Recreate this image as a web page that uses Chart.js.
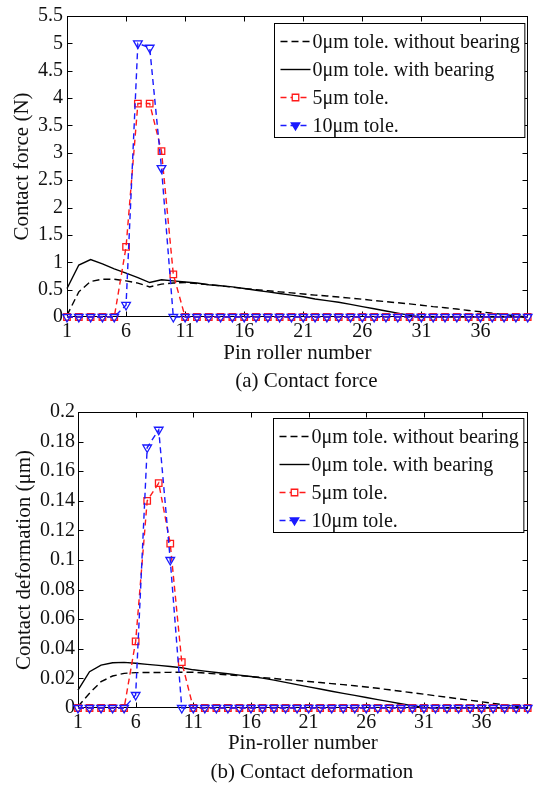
<!DOCTYPE html>
<html>
<head>
<meta charset="utf-8">
<script src="https://cdn.jsdelivr.net/npm/chart.js@4/dist/chart.umd.min.js"></script>
<style>
html,body{margin:0;padding:0;background:#fff;}
#wrap{position:relative;width:534px;height:786px;overflow:hidden;}
canvas{position:absolute;left:0;}
</style>
</head>
<body>
<div id="wrap">
  <canvas id="c1" width="534" height="392" style="top:0"></canvas>
  <canvas id="c2" width="534" height="394" style="top:392px"></canvas>
</div>
<script>
// ---------------- data ----------------
const pins = [1,2,3,4,5,6,7,8,9,10,11,12,13,14,15,16,17,18,19,20,21,22,23,24,25,26,27,28,29,30,31,32,33,34,35,36,37,38,39,40];
const xTicks = [1,6,11,16,21,26,31,36];
const forceTicks = [0,0.5,1,1.5,2,2.5,3,3.5,4,4.5,5,5.5];
const deformTicks = [0,0.02,0.04,0.06,0.08,0.1,0.12,0.14,0.16,0.18,0.2];

const seriesLabels = ['0\u03bcm tole. without bearing','0\u03bcm tole. with bearing','5\u03bcm tole.','10\u03bcm tole.'];

// (a) Contact force (N)
const forceNoBearing = [0.03,0.46,0.65,0.69,0.69,0.66,0.62,0.55,0.60,0.62,0.63,0.61,0.59,0.57,0.545,0.52,0.50,0.48,0.46,0.44,0.42,0.40,0.385,0.365,0.345,0.325,0.30,0.28,0.26,0.24,0.215,0.19,0.17,0.145,0.12,0.095,0.07,0.045,0.02,0];
const forceBearing   = [0.52,0.95,1.05,0.97,0.88,0.80,0.72,0.63,0.68,0.66,0.64,0.62,0.59,0.57,0.55,0.52,0.49,0.46,0.43,0.40,0.37,0.33,0.30,0.27,0.23,0.19,0.15,0.11,0.07,0.03,0,0,0,0,0,0,0,0,0,0];
const force5um       = [0,0,0,0,0,1.28,3.9,3.9,3.03,0.78,0,0,0,0,0,0,0,0,0,0,0,0,0,0,0,0,0,0,0,0,0,0,0,0,0,0,0,0,0,0];
const force10um      = [0,0,0,0,0,0.22,5.0,4.92,2.72,0,0,0,0,0,0,0,0,0,0,0,0,0,0,0,0,0,0,0,0,0,0,0,0,0,0,0,0,0,0,0];

// (b) Contact deformation (um)
const deformNoBearing = [0.001,0.010,0.0178,0.0216,0.0234,0.0239,0.024,0.024,0.0241,0.0242,0.0242,0.0236,0.023,0.0224,0.0218,0.0212,0.0206,0.0199,0.0192,0.0186,0.0179,0.0172,0.0165,0.0158,0.015,0.0142,0.0133,0.0123,0.0113,0.0103,0.0093,0.0083,0.0073,0.0062,0.0052,0.0042,0.0031,0.0021,0.001,0];
const deformBearing   = [0.012,0.0245,0.029,0.0306,0.0308,0.0302,0.0295,0.0288,0.028,0.0272,0.0258,0.0249,0.024,0.0231,0.0222,0.0213,0.0202,0.0188,0.0173,0.0158,0.0143,0.0128,0.0113,0.0099,0.0085,0.0071,0.0057,0.0043,0.0029,0.0015,0.0003,0,0,0,0,0,0,0,0,0];
const deform5um       = [0,0,0,0,0,0.045,0.140,0.152,0.111,0.031,0,0,0,0,0,0,0,0,0,0,0,0,0,0,0,0,0,0,0,0,0,0,0,0,0,0,0,0,0,0];
const deform10um      = [0,0,0,0,0,0.0088,0.176,0.188,0.100,0,0,0,0,0,0,0,0,0,0,0,0,0,0,0,0,0,0,0,0,0,0,0,0,0,0,0,0,0,0,0];

// ---------------- styling ----------------
const FONT = '"Liberation Serif", "Times New Roman", serif';
const TXT = '#111';
const xy = arr => pins.map((p, i) => ({x: p, y: arr[i]}));
const fmt = v => String(+(+v).toFixed(3));

function makeDatasets(a, b, c, d) {
  return [
    {label: seriesLabels[0], data: xy(a), borderColor:'#000', borderWidth:1.4, borderDash:[7,4], pointRadius:0, order:3, clip:false},
    {label: seriesLabels[1], data: xy(b), borderColor:'#000', borderWidth:1.4, pointRadius:0, order:2, clip:false},
    {label: seriesLabels[2], data: xy(c), borderColor:'#ff1a1a', borderWidth:1.4, borderDash:[6,4],
      pointStyle:'rect', pointRadius:4.6, pointBorderColor:'#ff1a1a', pointBackgroundColor:'rgba(255,255,255,0)', pointBorderWidth:1.3, order:1, clip:false},
    {label: seriesLabels[3], data: xy(d), borderColor:'#1a1aff', borderWidth:1.4, borderDash:[6,4],
      pointStyle:'triangle', pointRotation:180, pointRadius:5, pointBorderColor:'#1a1aff', pointBackgroundColor:'rgba(255,255,255,0)', pointBorderWidth:1.3, order:0, clip:false}
  ];
}

// frame with inward ticks on all four sides
const framePlugin = {
  id: 'frame',
  beforeDatasetsDraw(chart) {
    const {ctx, chartArea: a, scales: {x, y}} = chart;
    const L = Math.round(a.left) + 0.5, R = Math.round(a.right) - 0.5;
    const T = Math.round(a.top) + 0.5, B = Math.round(a.bottom) - 0.5;
    ctx.save();
    ctx.strokeStyle = '#000'; ctx.lineWidth = 1; ctx.setLineDash([]);
    ctx.strokeRect(L, T, R - L, B - T);
    const tl = 5;
    ctx.beginPath();
    x.ticks.forEach(t => {
      const px = Math.round(x.getPixelForValue(t.value)) + 0.5;
      ctx.moveTo(px, B); ctx.lineTo(px, B - tl);
      ctx.moveTo(px, T); ctx.lineTo(px, T + tl);
    });
    y.ticks.forEach(t => {
      const py = Math.round(y.getPixelForValue(t.value)) + 0.5;
      ctx.moveTo(L, py); ctx.lineTo(L + tl, py);
      ctx.moveTo(R, py); ctx.lineTo(R - tl, py);
    });
    ctx.stroke();
    ctx.restore();
  }
};

function drawMarker(ctx, style, cx, cy, r) {
  ctx.beginPath();
  if (style === 'rect') {
    const s = Math.SQRT1_2 * r;
    ctx.rect(cx - s, cy - s, 2 * s, 2 * s);
    ctx.stroke();
  } else if (style === 'triangle') {
    ctx.moveTo(cx - r * 0.85, cy - r * 0.5);
    ctx.lineTo(cx + r * 0.85, cy - r * 0.5);
    ctx.lineTo(cx, cy + r * 0.9);
    ctx.closePath();
    ctx.fill(); ctx.stroke();
  }
}

// boxed legend inside plot area (upper right)
const boxLegend = {
  id: 'boxLegend',
  afterDatasetsDraw(chart, args, opts) {
    const {ctx, chartArea: a} = chart;
    const ds = chart.data.datasets;
    ctx.save();
    ctx.font = '20px ' + FONT;
    const maxW = Math.max(...ds.map(d => ctx.measureText(d.label).width));
    const padL = 6, sampleW = 30, gap = 2, padR = 5;
    const w = padL + sampleW + gap + maxW + padR;
    const firstRow = 18, rowH = 28;
    const h = firstRow + rowH * (ds.length - 1) + 12;
    const x0 = Math.round(a.right - opts.right - w) + 0.5;
    const y0 = Math.round(a.top + opts.top) + 0.5;
    ctx.fillStyle = '#fff';
    ctx.fillRect(x0, y0, w, h);
    ctx.strokeStyle = '#000'; ctx.lineWidth = 1; ctx.setLineDash([]);
    ctx.strokeRect(x0, y0, w, h);
    ds.forEach((d, i) => {
      const cy = y0 + firstRow + rowH * i;
      ctx.strokeStyle = d.borderColor;
      ctx.lineWidth = d.borderWidth;
      ctx.setLineDash(d.borderDash || []);
      ctx.beginPath();
      ctx.moveTo(x0 + padL, cy); ctx.lineTo(x0 + padL + sampleW, cy);
      ctx.stroke();
      ctx.setLineDash([]);
      if (d.pointRadius > 0) {
        ctx.fillStyle = d.pointBorderColor;
        ctx.strokeStyle = d.pointBorderColor;
        ctx.lineWidth = 1.3;
        if (d.pointStyle === 'rect') { ctx.fillStyle = '#fff'; ctx.fillRect(x0 + padL + sampleW/2 - 3.5, cy - 3.5, 7, 7); }
        drawMarker(ctx, d.pointStyle, x0 + padL + sampleW / 2, cy, d.pointRadius);
      }
      ctx.fillStyle = TXT;
      ctx.textAlign = 'left'; ctx.textBaseline = 'middle';
      ctx.fillText(d.label, x0 + padL + sampleW + gap, cy + 1);
    });
    ctx.restore();
  }
};

// caption under each panel
const captionPlugin = {
  id: 'caption',
  afterDraw(chart, args, opts) {
    const {ctx, chartArea: a} = chart;
    ctx.save();
    ctx.font = '21px ' + FONT;
    ctx.fillStyle = TXT;
    ctx.textAlign = 'center'; ctx.textBaseline = 'middle';
    ctx.fillText(opts.text, (a.left + a.right) / 2 + opts.dx, a.bottom + opts.dy);
    ctx.restore();
  }
};

function makeChart(id, datasets, yTicks, yMax, yTitle, xTitle, caption, lay) {
  return new Chart(document.getElementById(id), {
    type: 'line',
    data: {datasets},
    plugins: [framePlugin, boxLegend, captionPlugin],
    options: {
      responsive: false,
      animation: false,
      events: [],
      layout: {padding: {top: lay.top, right: lay.right, left: 0, bottom: lay.bottom}},
      elements: {line: {tension: 0}},
      plugins: {
        legend: {display: false},
        tooltip: {enabled: false},
        boxLegend: {right: lay.legRight, top: lay.legTop},
        caption: {text: caption, dx: 9, dy: 64}
      },
      scales: {
        x: {
          type: 'linear', min: 1, max: 40,
          afterBuildTicks: s => { s.ticks = xTicks.map(v => ({value: v})); },
          afterFit: s => { s.height = lay.xh; },
          grid: {display: false, drawTicks: false},
          border: {display: false},
          ticks: {font: {family: FONT, size: 20}, color: TXT, padding: 3, maxRotation: 0, autoSkip: false},
          title: {display: true, text: xTitle, font: {family: FONT, size: 21}, color: TXT, padding: {top: 0, bottom: 2}}
        },
        y: {
          type: 'linear', min: 0, max: yMax,
          afterBuildTicks: s => { s.ticks = yTicks.map(v => ({value: v})); },
          afterFit: s => { s.width = lay.yw; },
          grid: {display: false, drawTicks: false},
          border: {display: false},
          ticks: {font: {family: FONT, size: 20}, color: TXT, padding: lay.ypad, callback: v => fmt(v), autoSkip: false},
          title: {display: true, text: yTitle, font: {family: FONT, size: 21}, color: TXT, padding: {top: lay.ytp, bottom: 0}}
        }
      }
    }
  });
}

makeChart('c1', makeDatasets(forceNoBearing, forceBearing, force5um, force10um),
  forceTicks, 5.5, 'Contact force (N)', 'Pin roller number', '(a) Contact force',
  {top: 16, right: 4, bottom: 24, xh: 51, yw: 67, ypad: 4, ytp: 10, legRight: 3, legTop: 7});

makeChart('c2', makeDatasets(deformNoBearing, deformBearing, deform5um, deform10um),
  deformTicks, 0.2, 'Contact deformation (\u03bcm)', 'Pin-roller number', '(b) Contact deformation',
  {top: 20, right: 1.5, bottom: 28, xh: 50, yw: 78, ypad: 3, ytp: 12, legRight: 4, legTop: 6});
</script>
</body>
</html>
